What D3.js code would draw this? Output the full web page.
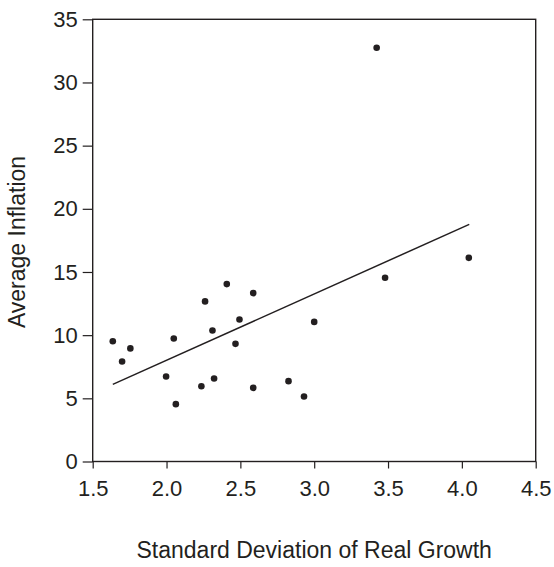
<!DOCTYPE html>
<html>
<head>
<meta charset="utf-8">
<script src="https://cdn.jsdelivr.net/npm/d3@7/dist/d3.min.js"></script>
<style>
  body { margin: 0; background: #fff; }
  text { font-family: "Liberation Sans", Arial, Helvetica, sans-serif; fill: #231f20; }
</style>
</head>
<body>
<div id="chart"></div>
<script>
// std. deviation of real growth vs average inflation, one point per country
const growthSd = [1.636, 1.699, 1.755, 1.997, 2.049, 2.063, 2.236, 2.261, 2.311, 2.322, 2.408,
                  2.467, 2.494, 2.587, 2.587, 2.826, 2.931, 3.0, 3.423, 3.48, 4.047];
const inflation = [9.52, 7.92, 8.95, 6.73, 9.74, 4.54, 5.96, 12.67, 10.37, 6.57, 14.04,
                   9.31, 11.24, 13.33, 5.83, 6.36, 5.15, 11.05, 32.75, 14.54, 16.12];

// fitted line, end points
const fitX = [1.636, 4.05];
const fitY = [6.1, 18.77];

const xTicks = [1.5, 2.0, 2.5, 3.0, 3.5, 4.0, 4.5];
const yTicks = [0, 5, 10, 15, 20, 25, 30, 35];

const W = 554, H = 567;
const margin = {top: 19.3, right: 18.3, bottom: 105.5, left: 92.7};
const width = W - margin.left - margin.right;
const height = H - margin.top - margin.bottom;
const ink = "#231f20";

const svg = d3.select("#chart").append("svg")
  .attr("width", W)
  .attr("height", H);

const g = svg.append("g")
  .attr("transform", `translate(${margin.left},${margin.top})`);

const x = d3.scaleLinear().domain([1.5, 4.5]).range([0, width]);
const y = d3.scaleLinear().domain([0, 35]).range([height, 0]);

// axes
const xAxis = g.append("g")
  .attr("transform", `translate(0,${height})`)
  .call(d3.axisBottom(x).tickValues(xTicks).tickFormat(d3.format(".1f")).tickSize(7).tickPadding(12));
const yAxis = g.append("g")
  .call(d3.axisLeft(y).tickValues(yTicks).tickFormat(d3.format("d")).tickSize(10).tickPadding(5));

[xAxis, yAxis].forEach(a => {
  a.select(".domain").remove();
  a.selectAll("line").attr("stroke", ink).attr("stroke-width", 1.2);
  a.selectAll("text").style("font-size", "22px").attr("fill", ink);
});

// frame
g.append("rect")
  .attr("x", 0).attr("y", 0)
  .attr("width", width).attr("height", height)
  .attr("fill", "none")
  .attr("stroke", ink)
  .attr("stroke-width", 1.4);

// regression line
const fit = fitX.map((v, i) => [v, fitY[i]]);
g.append("path")
  .datum(fit)
  .attr("fill", "none")
  .attr("stroke", ink)
  .attr("stroke-width", 1.5)
  .attr("d", d3.line().x(d => x(d[0])).y(d => y(d[1])));

// points
g.selectAll("circle.pt")
  .data(growthSd.map((v, i) => ({sd: v, inf: inflation[i]})))
  .join("circle")
  .attr("class", "pt")
  .attr("cx", d => x(d.sd))
  .attr("cy", d => y(d.inf))
  .attr("r", 3.3)
  .attr("fill", ink);

// axis titles
svg.append("text")
  .attr("x", margin.left + width / 2)
  .attr("y", 558)
  .attr("text-anchor", "middle")
  .style("font-size", "23px")
  .text("Standard Deviation of Real Growth");

svg.append("text")
  .attr("transform", "translate(25,242) rotate(-90)")
  .attr("text-anchor", "middle")
  .style("font-size", "23px")
  .text("Average Inflation");
</script>
</body>
</html>
